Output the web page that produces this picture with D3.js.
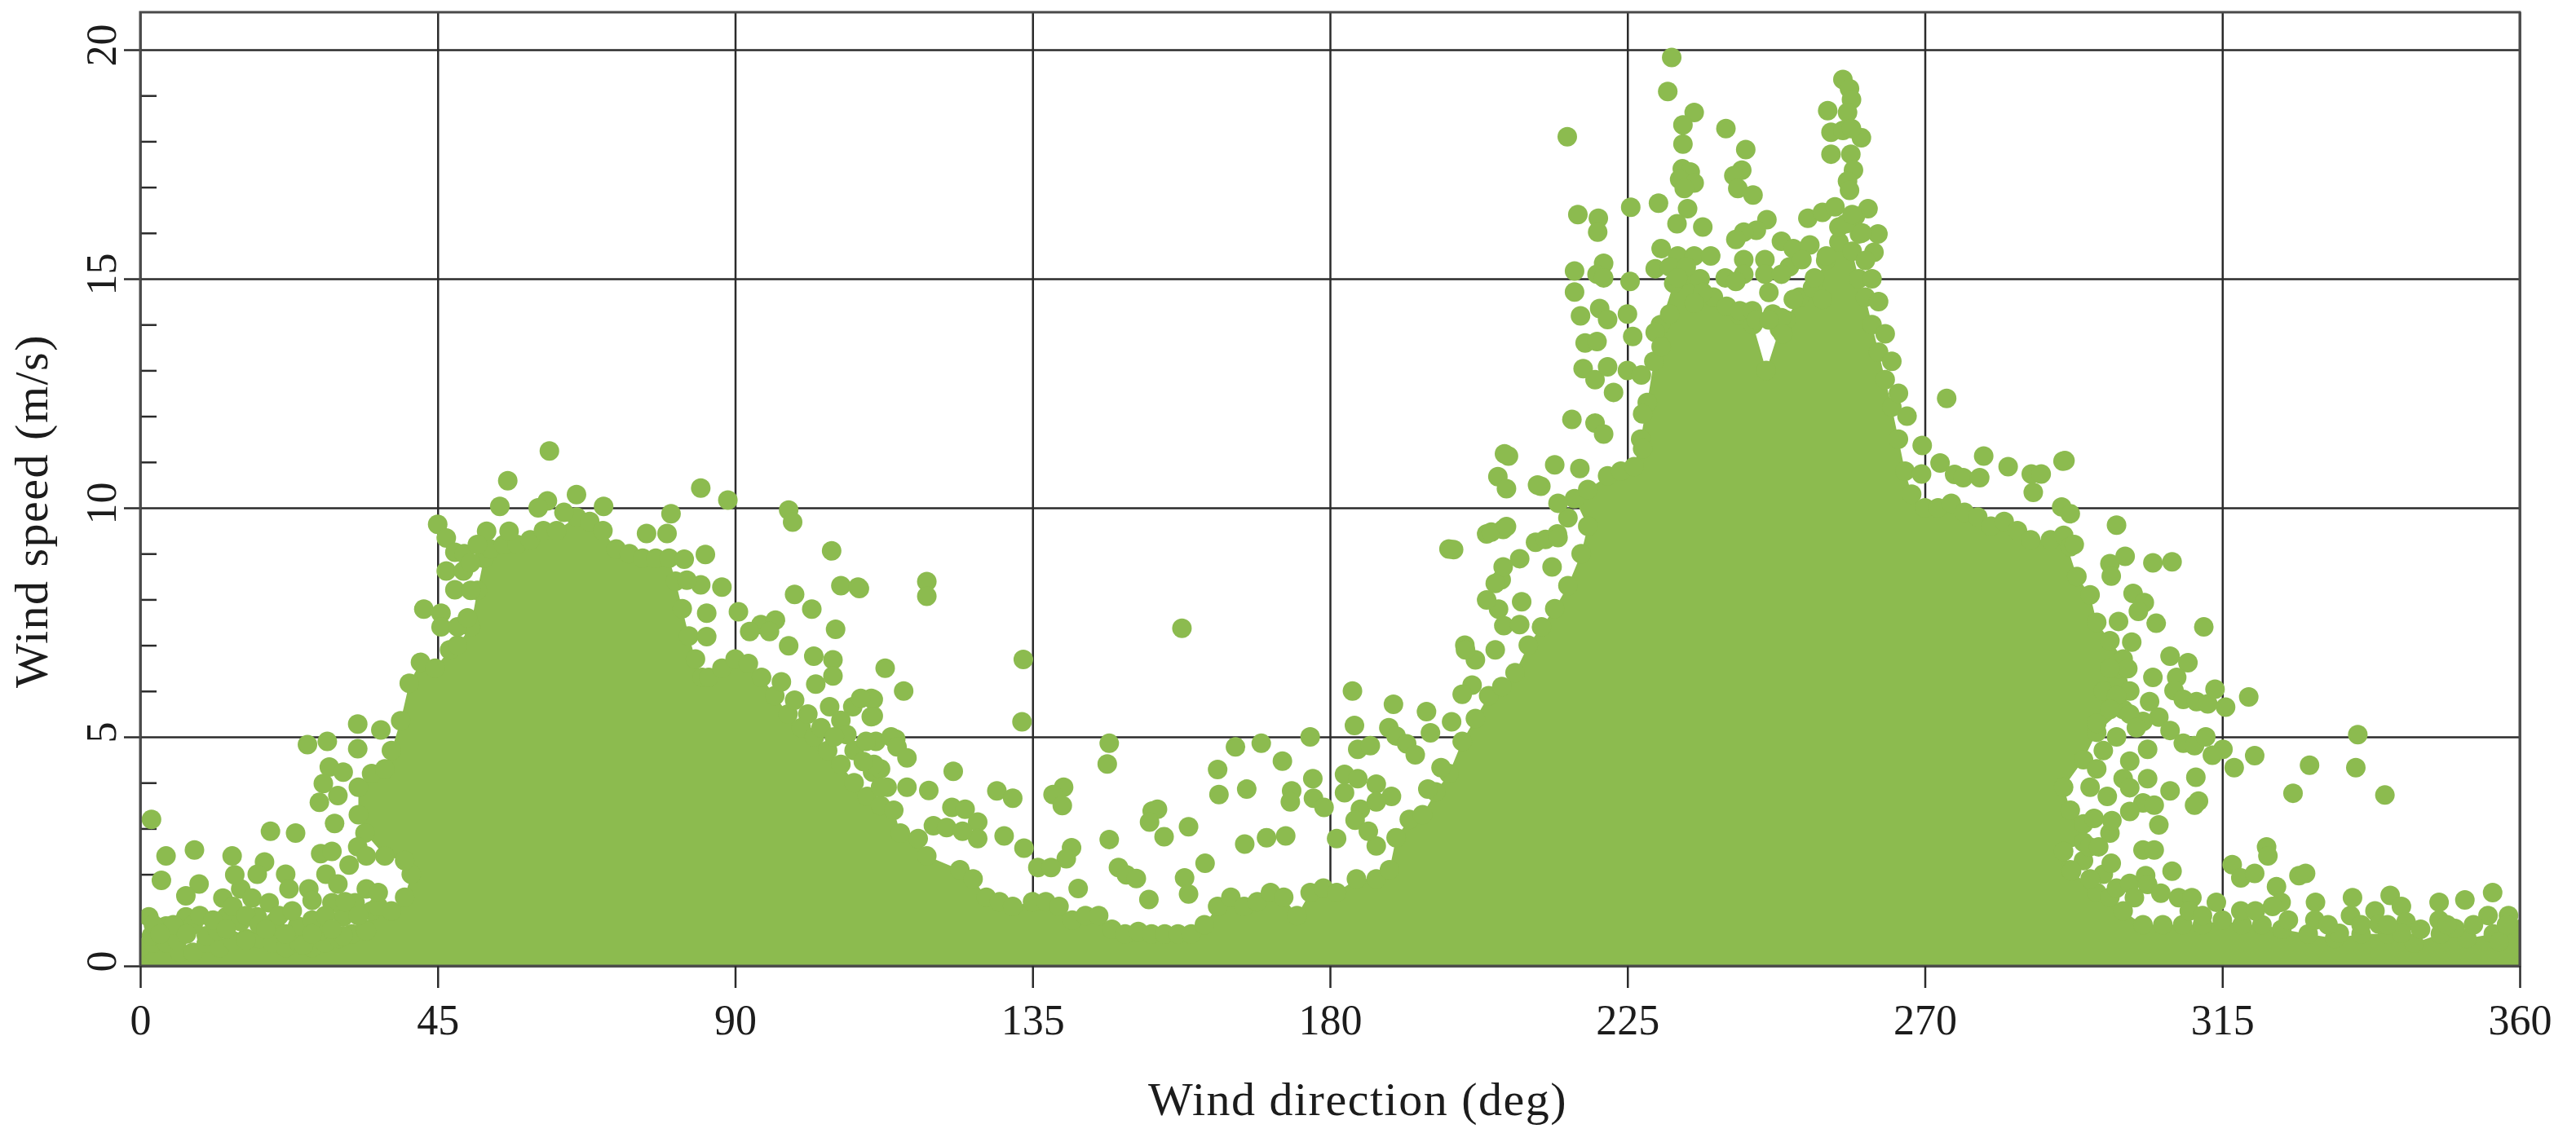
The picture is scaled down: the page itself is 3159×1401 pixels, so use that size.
<!DOCTYPE html>
<html>
<head>
<meta charset="utf-8">
<script src="https://cdnjs.cloudflare.com/ajax/libs/d3/7.8.5/d3.min.js"></script>
<style>
    html, body { margin: 0; padding: 0; background: #fff; }
    text { font-family: "Liberation Serif", serif; fill: #1c1c1c; }
    .grid line, .ticks line { stroke: #2b2b2b; stroke-width: 2.5px; }
    .domain { display: none; }
</style>
</head>
<body>
<div id="chart"></div>
<script>
// dir (deg), speed (m/s)
// edge of the solid part of the cloud, left to right
var coreEdge = [
    [0,.4],[2,.5],[4,.5],[6,.3],[8,.3],[10,.5],[12,.4],[14,.55],[16,.6],[18,.6],[20,.5],[22,.4],[24,.5],[26,.4],[28,.5],[30,.6],[32,.7],[34,.8],[35,1.2],[36,1.3],[38,1.2],[40,1.5],[41,2],[40,2.3],
    [37,2.4],[34,2.9],[33,3.3],[33,3.9],[35,4.2],[37,4.3],[38,4.7],[39.4,5.35],[40.7,6.17],[42.4,6.63],[44.6,6.5],[46.8,6.9],[48,7],[50,7.4],[51,8.2],[52,8.9],[53,9.1],[55,9.2],[57,9.2],[59,9.3],[61,9.5],[63,9.5],[66,9.8],[68,9.7],[70,9.5],[72,9.1],[74,9],[76,8.9],[78,8.9],[80,8.9],[81,8.4],[82,7.8],[83,7.2],[84,6.7],[85,6.3],
    [86,6.3],[88,6.5],[90,6.7],[92,6.6],[94,6.3],[96,5.9],[98,5.5],[100,5.2],[102,5],[104,4.7],[106,4.4],[108,4],[110,3.7],[112,3.5],[114,3.4],[115,2.9],[117.7,2.78],[119,2.4],[124,2.1],[126,1.9],[128,1.5],[130,1.4],[132,1.3],[135,1.4],[137,1.4],[139,1.3],[141,1],[143,1.1],[145,1.1],[147,.8],[149,.7],[151,.75],[153,.7],[155,.7],[157,.7],[159,.7],[161,.9],[163,1.3],[165,1.5],[167,1.3],[169,1.4],[171,1.6],[173,1.5],[175,1.1],[177,1.6],[179,1.7],[181,1.6],[184,1.9],[187,1.9],[189,2.1],[190,2.8],[192,3.2],[194,3.3],[196,3.8],[198,4.2],
    [200,4.9],[202,5.4],[204,5.9],[206,6.1],[208,6.4],[210,7],[212,7.4],[214,7.8],[216,8.3],[218,9],[219,9.6],[217,10.2],[219,10.4],[222,10.7],[224,10.8],[226,10.9],[227,11.5],[228,12.3],[229,13.2],[230,14],[232,14.9],[234,15.1],[236,15],[238,14.6],[240,14.4],[242,14.2],[244,14],[246,13],[248,13.9],[249,14.1],[251,14.6],[253,14.8],[255,15.4],[257,15.8],[259,15.6],[260,15],[261,14.6],[262,14],[263,13.4],[264,12.8],[265,12.2],[266,11.5],[267,10.8],[268,10.3],[270,10],
    [272,10],[274,10.1],[276,9.9],[278,9.8],[280,9.6],[282,9.7],[284,9.5],[286,9.3],[289,9.3],[291,9.4],[293,8.5],[295,8.1],[296,7.5],[298,7.1],[300,6.7],[301,6],[300,5.6],[296,5.1],[294,4.5],[291,3.9],[292,3.4],[294,3.1],[294,2.7],[291,2.5],[292,2.1],[296,1.6],[298,1.5],[300,1.2],[303,.9],[306,.9],[309,.9],[312,.9],[315,1],[318,.9],[321,.9],[324,.8],[328,.7],[332,.6],[336,.7],[340,.7],[344,.5],[348,.7],[352,.6],[356,.7],[360,.8],[360,0],[0,0]
];
// loose points, 0-60 deg and the first hump
var pointsEast = [
    [1.7,3.2],[3.9,2.4],[3.2,1.87],[8.2,2.53],[8.9,1.79],[13.9,2.4],[19.7,2.94],[23.5,2.9],[18.8,2.27],[6.9,1.53],[6.9,1.07],[12.5,1.48],[13,1.07],[15.2,1.68],[14.3,1.99],[17.7,2],[16.9,1.48],[19.5,1.38],[20.4,.97],[22,2],[22.5,1.68],[25.5,1.68],[26,1.43],
    [25.3,4.83],[28.3,4.9],[28.6,4.34],[27.7,3.98],[27.1,3.57],[32.9,5.28],[36.4,5.15],[32.9,4.74],[30.7,4.23],[29.9,3.72],[29.4,3.11],[27.3,2.45],[29,2.5],[28.1,2],[29.9,1.79],[32.9,2.6],[31.6,2.2],[34.2,2.4],
    [1.3,1.07],[3.9,.87],[1.7,.66],[5.6,.56],[10,.66],[11.7,.77],[15.2,.97],[17.7,1.07],[20.3,.87],[16,.56],[23.8,.87],[27.3,.77],[24.7,.46],[30.7,1.07],[32.5,1.38],[34.2,1.68],[30.7,.66],[34.2,.77],[29,1.38],
    [2,.9],[5,.9],[8,.9],[9,1.1],[11,1],[14,1.3],[16,1.1],[18,.9],[21,1.1],[23,1.2],[26,1],[28,1.1],[31,1.4],[33,1.1],[36,1.6],[3,.7],[7,.7],[13,.8],[19,.8],[22,.7],[26,.7],[29,.8],
    [61.9,11.24],[55.6,10.59],[54.4,10.03],[61.6,10.15],[60.2,10],[66,10.29],[70.1,10.03],[64.1,9.9],[84.8,10.43],[88.9,10.17],[80.3,9.87],[98.1,9.95],[98.7,9.69],[104.6,9.06],[106,8.3],[108.8,8.24],[99,8.11],[101.6,7.79],[105.2,7.35],[90.5,7.73],[88,8.27],[85.5,8.98],[82.3,8.88],[84.8,8.32],[82.7,8.42],[85.7,7.7],[85.7,7.19],[79.7,9.44],[76.6,9.44],
    [45,9.64],[46.3,9.34],[47.6,9.03],[46.3,8.62],[48.9,8.62],[47.6,8.21],[42.9,7.79],[45.5,7.7],[45.5,7.4],[48,7.4],[52.4,9.49],[55.8,9.49],[49,9],[50,8.8],[50,8.2],[49.5,7.6],[51,9.2],
    [93.9,7.45],[96.1,7.55],[92.2,7.3],[95.2,7.3],[98.1,6.99],[101.9,6.76],[104.8,6.68],[104.8,6.33],[102.2,6.15],[112.7,6.5],[110.9,5.82],[110.9,5.46],[107.8,5.66],[104.3,5.66],[106,5.36],[111.3,4.9],[114.3,4.95],[110.8,4.23],[106.9,5.05],
    [97,6.2],[99,5.8],[101,5.5],[103,5.2],[105,5],[108,4.7],[112,4.3],[113,3.9],[116,3.9],[112,3.9]
];
// loose points across the calm sector
var pointsSouth = [
    [119,8.39],[119,8.07],[108.6,8.27],[157.6,7.37],[133.6,6.69],[133.4,5.33],[115.5,6],[110.6,5.84],[109,5.84],[110.6,5.44],[113.6,5],[114.5,4.78],[116,4.54],[109.8,4.9],[111,4.4],[109.4,4.46],[123,4.25],[119.3,3.83],[129.6,3.82],[132,3.66],[139.7,3.9],[138.1,3.74],[139.5,3.5],[146.6,4.86],[146.3,4.41],
    [122.8,3.46],[124.8,3.42],[126.7,3.14],[126.7,2.78],[120,3.06],[122,3.02],[124.4,2.94],[130.7,2.84],[133.7,2.57],[140.9,2.58],[140.1,2.34],[135.8,2.15],[137.8,2.15],[146.6,2.76],[141.9,1.69],[148,2.15],[149.2,1.99],[150.7,1.91],[152.6,1.45],[158.6,3.04],[153.1,3.38],[153.9,3.42],[152.7,3.14],[154.9,2.82],[158,1.92],[158.6,1.57],[161.1,2.24],
    [163,4.29],[163.2,3.74],[167.4,3.86],[165.7,4.78],[169.6,4.86],[172.8,4.47],[177,5],[177.4,4.09],[174.2,3.82],[174,3.58],[177.5,3.66],[179.1,3.46],[167.1,2.66],[170.4,2.8],[173.3,2.84],
    [183.4,6],[189.6,5.71],[183.7,5.25],[194.6,5.55],[188.9,5.2],[190,5.02],[191.6,4.85],[195.2,5.09],[184.2,4.73],[186.1,4.81],[192.9,4.61],[182.2,4.18],[184.2,4.09],[187,3.97],[189.3,3.7],[182.2,3.78],[184.6,3.42],[183.8,3.18],[187,3.58],[187,2.62],[181,2.78],[185.8,2.94],[194.8,3.86],[196.8,4.33],[198.4,5.33],
    [200.4,7],[202,6.68],[205.5,7.79],[206.3,7.43],[209,7.95],[205,6.9],[201.5,6.13],[200,5.93],[205.9,8.43]
];
// loose points around the 250 deg peak
var pointsPeak = [
    [206.4,11.18],[205.4,10.68],[211.9,10.47],[198,9.1],[200.5,6.9],[203.7,9.43],[206.2,9.53],[208.7,8.89],[206.2,8.71],[205,8.35],[211.1,9.25],[208.7,7.45],[203.7,7.99],[214.4,9.43],[213.6,8.71],[216,9.78],
    [231.7,19.83],[231.1,19.09],[235.1,18.63],[233.4,18.36],[233.4,17.94],[239.9,18.28],[242.9,17.82],[215.9,18.1],[233.3,17.4],[234.5,17.33],[232.9,17.17],[235.1,17.09],[233.6,16.97],[242.3,17.37],[241.1,17.25],[241.7,16.97],[244,16.83],[225.5,16.56],[229.7,16.65],[234.1,16.53],[232.5,16.2],[236.4,16.13],[217.5,16.4],[220.6,16.32],[220.5,16.02],
    [257.6,19.35],[258.6,19.15],[258.9,18.91],[255.3,18.67],[258.3,18.63],[255.8,18.2],[257.6,18.24],[260.4,18.08],[258.9,18.28],[255.8,17.72],[258.8,17.72],[259.2,17.37],[258.3,17.13],[258.6,16.93],[252.3,16.32],[254.5,16.45],[256.4,16.57],[261.4,16.53],[259.5,16.37],[246.1,16.29],[244.5,16.06],[242.6,16.02],[241.4,15.86],[262.9,15.98],[262.3,15.58],[257,16.13],[260.1,15.98],
    [230.1,15.66],[232.6,15.5],[235.1,15.5],[237.6,15.5],[229.2,15.22],[231.4,15.26],[233.9,15.26],[232.6,15.02],[248.3,15.82],[250.1,15.66],[252.6,15.74],[255.1,15.5],[249.5,15.26],[251.4,15.42],[242.6,15.42],[245.8,15.42],[242.6,15.1],[245.8,15.1],[239.8,15.02],[241.4,14.94],[248.3,15.1],[253.3,15.02],[246.4,14.7],[242,14.3],[243.9,14.3],[247,14.23],[248.3,14.15],[250.1,14.55],[254.5,14.55],[236.4,14.7],[235.1,14.47],[231.4,14.23],[229.2,13.83],[230.1,13.52],
    [258,16.2],[259,16.4],[260.5,16],[261,15.4],[262,15],[263,14.5],[264,13.8],[265,13.2],[266,12.5],[244.5,14.1],[246.4,14.1],[248.5,13.8],
    [217,15.17],[221.4,15.34],[220.4,15.1],[221.4,15.02],[217,14.71],[225.4,14.94],[220.8,14.35],[217.9,14.19],[222,14.11],[225,14.23],[225.8,13.74],[218.6,13.6],[220.4,13.63],[218.3,13.04],[220.1,12.8],[222,13.08],[225,13],[227.1,12.9],[222.9,12.52],[216.6,11.93],[220.1,11.85],[221.4,11.61],[227.3,12.05],[227.3,11.29],
    [207,11.13],[206.7,10.42],[211.4,10.5],[214,10.94],[217.8,10.86],[214.5,10.1],[204.4,9.47],[206.7,9.59],[198.7,9.09],[212.6,9.31],[214.5,9.35],
    [273.3,12.39],[267.3,12],[269.6,11.36],[272.3,10.98],[274.5,10.73],[275.8,10.66],[278.9,11.13],[282.6,10.9],[278.3,10.66],[286.1,10.74],[287.6,10.74],[286.4,10.34],[290.9,11.02],[269.5,10.74],[290.7,10.02],[292,9.87],[292,9.15]
];
// loose points on the falling side, 290-360 deg
var pointsWest = [
    [291.2,11.03],[299,9.62],[292.6,9.2],[298,8.78],[300.3,8.94],[298.2,8.51],[304.5,8.8],[307.4,8.82],[301.5,8.13],[303.2,7.93],[302.3,7.74],[299.3,7.52],[305,7.48],[312.2,7.4],[301.3,7.07],[299.3,6.49],[300.7,6.49],[307.1,6.76],[309.8,6.62],[304.5,6.3],[308.1,6.3],[307.7,6.01],[309.1,5.82],[311.1,5.77],[312.8,5.72],[313.9,6.04],[315.5,5.65],[319,5.87],
    [304,5.77],[305.4,5.43],[303,5.34],[307.1,5.14],[309.1,4.86],[310.8,4.81],[312.5,5],[303.7,4.73],[315.1,4.73],[313.5,4.6],[319.9,4.59],[316.8,4.33],[328.2,4.38],[335.5,5.05],[335.2,4.33],[325.7,3.77],[339.6,3.73],
    [298,6.5],[297,6],[299,5.9],[301,5.5],[302,5.2],[298,5.6],[296,5.3],[299,5],[297,4.7],[296,4.3],[295,3.9],[298,2.9],[294,2.3],[297,2],[295,1.9],[299,1.7],[301,1.8],
    [301,4.47],[300,4.09],[303.7,4.09],[297.6,3.7],[301,3.89],[311,4.12],[307.1,3.82],[311.4,3.6],[310.8,3.51],[303,3.56],[304.7,3.51],[301,3.37],[298.3,3.17],[295.6,3.22],[305.4,3.08],[303,2.53],[304.7,2.53],[294.9,2.6],[296.3,2.6],[298.2,2.24],[307.4,2.07],[303.4,1.97],[303.7,1.78],[305.7,1.59],[308.4,1.49],[310.4,1.49],[301.7,1.49],[292.2,2.07],
    [321.7,2.6],[321.9,2.4],[316.5,2.21],[317.8,1.92],[319.9,2.02],[326.6,1.97],[327.6,2.02],[323.2,1.73],[323.9,1.39],[322.6,1.3],[314.1,1.39],[317.8,1.2],[329.1,1.39],[329,1],[334.7,1.49],[334.4,1.1],[338.1,1.2],[340.4,1.54],[342.1,1.3],[342.8,.96],[347.8,1.39],[347.8,1],[351.7,1.44],[355.9,1.6],[355.2,1.1],[358.3,1.1],[350.2,.82],[356.9,.53],[338.7,.91],[332.7,.71],[342.1,.71],
    [320,1.2],[325,1],[331,.9],[336,.9],[340,.9],[345,.8],[349,.9],[353,.9],[358,.9],[310,1.2],[312,1.1]
];
var xTicks = [0, 45, 90, 135, 180, 225, 270, 315, 360];
var yMajor = [0, 5, 10, 15, 20];
var yMinor = [1, 2, 3, 4, 6, 7, 8, 9, 11, 12, 13, 14, 16, 17, 18, 19];

var W = 3159,
    H = 1401,
    plotLeft = 172,
    plotRight = 3090,
    plotTop = 61,
    plotBottom = 1185,
    boxTop = 15,
    dotColor = "#8cbb4f",
    dotR = 12;

var svg = d3.select("#chart").append("svg")
    .attr("width", W)
    .attr("height", H)
    .style("display", "block");

var x = d3.scaleLinear().domain([0, 360]).range([plotLeft, plotRight]);
var y = d3.scaleLinear().domain([0, 20]).range([plotBottom, plotTop]);

svg.append("clipPath")
    .attr("id", "plotclip")
    .append("rect")
    .attr("x", plotLeft)
    .attr("y", boxTop)
    .attr("width", plotRight - plotLeft)
    .attr("height", plotBottom - boxTop);

// grid first, the cloud sits on top of it
svg.append("g")
    .attr("class", "grid")
    .attr("transform", "translate(0," + plotBottom + ")")
    .call(d3.axisTop(x).tickValues(xTicks).tickSize(plotBottom - boxTop).tickFormat(""))
    .call(function(g) { g.select(".domain").remove(); });

svg.append("g")
    .attr("class", "grid")
    .attr("transform", "translate(" + plotRight + ",0)")
    .call(d3.axisLeft(y).tickValues(yMajor).tickSize(plotRight - plotLeft + 20).tickFormat(""))
    .call(function(g) { g.select(".domain").remove(); });

svg.append("g")
    .attr("class", "ticks")
    .attr("transform", "translate(" + plotLeft + ",0)")
    .call(d3.axisRight(y).tickValues(yMinor).tickSize(20).tickFormat(""))
    .call(function(g) { g.select(".domain").remove(); });

var cloud = svg.append("g").attr("clip-path", "url(#plotclip)");

var edgeLine = d3.line()
    .x(function(d) { return x(d[0]); })
    .y(function(d) { return y(d[1]); });

cloud.append("path")
    .attr("d", edgeLine(coreEdge) + "Z")
    .attr("fill", dotColor);

var allPoints = coreEdge.concat(pointsEast, pointsSouth, pointsPeak, pointsWest);

cloud.selectAll("circle")
    .data(allPoints)
    .enter().append("circle")
    .attr("cx", function(d) { return x(d[0]); })
    .attr("cy", function(d) { return y(d[1]); })
    .attr("r", dotR)
    .attr("fill", dotColor);

// frame goes over the cloud
svg.append("rect")
    .attr("x", plotLeft)
    .attr("y", boxTop)
    .attr("width", plotRight - plotLeft)
    .attr("height", plotBottom - boxTop)
    .attr("fill", "none")
    .attr("stroke", "#4a4a4a")
    .attr("stroke-width", 3);

var xAxis = svg.append("g")
    .attr("class", "ticks")
    .attr("transform", "translate(0," + plotBottom + ")")
    .call(d3.axisBottom(x).tickValues(xTicks).tickSize(27).tickPadding(20));
xAxis.selectAll("text")
    .style("font-size", "52px");

var yAxis = svg.append("g")
    .attr("transform", "translate(" + plotLeft + ",0)")
    .call(d3.axisLeft(y).tickValues(yMajor).tickSize(0).tickFormat(d3.format("d")));
yAxis.select(".domain").remove();
yAxis.selectAll("text")
    .attr("x", null)
    .attr("dy", null)
    .attr("text-anchor", "middle")
    .attr("transform", "translate(-30,-6) rotate(-90)")
    .style("font-size", "52px");

svg.append("text")
    .attr("x", 1665)
    .attr("y", 1368)
    .attr("text-anchor", "middle")
    .style("font-size", "58px")
    .style("letter-spacing", "1.5px")
    .text("Wind direction (deg)");

svg.append("text")
    .attr("transform", "translate(58,627) rotate(-90)")
    .attr("text-anchor", "middle")
    .style("font-size", "58px")
    .style("letter-spacing", "1.5px")
    .text("Wind speed (m/s)");
</script>
</body>
</html>
